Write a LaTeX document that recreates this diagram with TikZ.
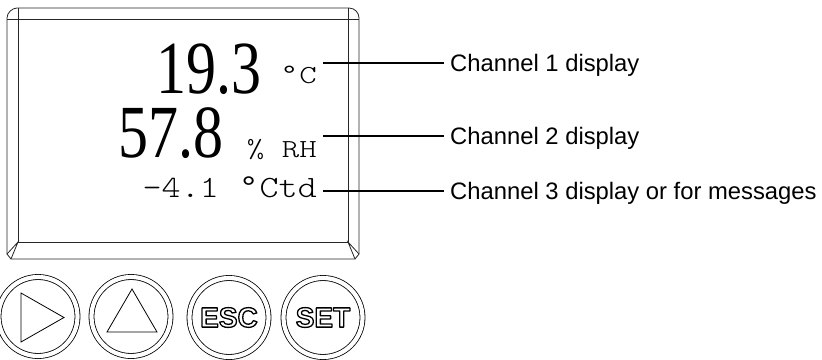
\documentclass[tikz,border=0pt]{standalone}
\usepackage{fontspec}
\usepackage{graphicx}
\setmainfont{Liberation Serif}
\setsansfont{Liberation Sans}
\newfontfamily\lightmono{lmmonolt10-regular.otf}
\newfontfamily\ringfont{Liberation Mono}
\usetikzlibrary{positioning}
\newcommand{\readout}[1]{\scalebox{0.8}[1]{\fontsize{75}{75}\selectfont #1}}
\newcommand{\unittext}[3][1.28]{\scalebox{#1}[1]{\lightmono\fontsize{#2}{#2}\selectfont #3}}
\newcommand{\degr}{{\ringfont °}}
\newcommand{\keytext}[1]{\special{pdf:literal direct 1 Tr 1.3 w 1 j}#1\special{pdf:literal direct 0 Tr}}

\begin{document}
\begin{tikzpicture}[x=1pt,y=-1pt,
  frame/.style={draw=black!85,line width=0.8pt},
  val/.style={inner sep=0pt,anchor=base east},
  unit/.style={inner xsep=6pt,inner ysep=0pt,anchor=base east},
  lbl/.style={anchor=west,inner xsep=6pt,inner ysep=0pt,text height=17pt,text depth=0pt,
              font=\sffamily\fontsize{23.8}{28}\selectfont},
  conn/.style={draw,line width=1.3pt},
  key/.style={circle,draw,double,double distance=4.2pt,line width=0.8pt,minimum size=79pt,inner sep=0pt},
  keylabel/.style={font=\sffamily\bfseries\fontsize{28}{28}\selectfont},
  glyph/.style={draw,line width=0.8pt}
]
  \useasboundingbox (0,0) rectangle (822,359);
  \draw[frame] (7,254) -- (7,18) .. controls (7,12.5) and (12.5,8) .. (17,8) -- (349,8)
    .. controls (354.5,8) and (359,12.5) .. (359,18) -- (359,254) -- (355,259) -- (11,259) -- cycle;
  \draw[frame] (18,19) rectangle (348,242);
  \draw[frame] (18,8) -- (18,19) -- (7,19);
  \draw[frame] (348,8) -- (348,19) -- (359,19);
  \draw[frame] (7,254) -- (18,242) -- (11,259);
  \draw[frame] (359,254) -- (348,242) -- (355,259);
  \node[val] (v1) at (262,93) {\readout{19.3}};
  \node[unit] (u1) at (323,83) {\unittext{26}{\degr C}};
  \node[val] (v2) at (224,157) {\readout{57.8}};
  \node[unit] (u2) at (323,157) {\unittext{26}{\% RH}};
  \node[unit] (u3) at (323,197) {\unittext[1.17]{31}{-4.1 \degr Ctd}};
  \node[lbl] (l1) at (444,63) {Channel 1 display};
  \node[lbl] (l2) at (444,136) {Channel 2 display};
  \node[lbl] (l3) at (444,191) {Channel 3 display or for messages};
  \draw[conn] (u1.east |- l1.west) -- (l1.west);
  \draw[conn] (u2.east |- l2.west) -- (l2.west);
  \draw[conn] (u3.east |- l3.west) -- (l3.west);
  \node[key] (next) at (38,316.5) {};
  \node[key] (up) at (131,316.5) {};
  \node[key,keylabel] (esc) at (229,317.5) {\keytext{ESC}};
  \node[key,keylabel] (set) at (323,317.5) {\keytext{SET}};
  \draw[glyph] ([shift={(-17,-23.5)}]next.center) -- ++(0,49) -- ++(43,-24.5) -- cycle;
  \draw[glyph] ([shift={(-24,15.5)}]up.center) -- ++(50,0) -- ++(-25,-43) -- cycle;
\end{tikzpicture}
\end{document}
